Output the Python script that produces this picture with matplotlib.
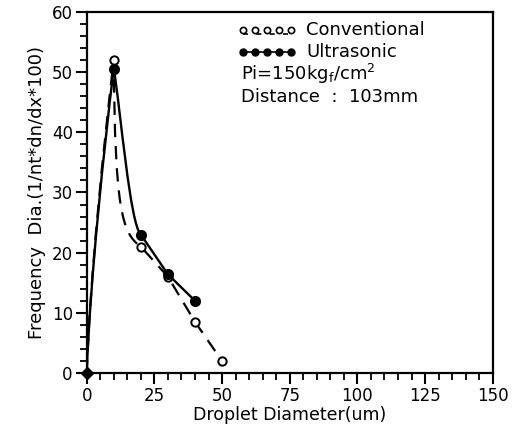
import matplotlib
matplotlib.use("Agg")
import matplotlib.pyplot as plt
from matplotlib.path import Path
from matplotlib.patches import PathPatch
from matplotlib.ticker import MultipleLocator

# ---- data ----
conv_x = [0, 10, 20, 30, 40, 50]
conv_y = [0, 52.0, 21.0, 16.0, 8.5, 2.0]
ultra_x = [0, 10, 20, 30, 40]
ultra_y = [0, 50.6, 23.0, 16.4, 12.0]
x_ticks = [0, 25, 50, 75, 100, 125, 150]
y_ticks = [0, 10, 20, 30, 40, 50, 60]
legend_labels = ["Conventional", "Ultrasonic"]
note_lines = ["Pi=150kg$_{f}$/cm$^{2}$", "Distance  :  103mm"]
x_label = "Droplet Diameter(um)"
y_label = "Frequency  Dia.(1/nt*dn/dx*100)"

plt.rcParams['font.family'] = ['DejaVu Sans']
plt.rcParams['mathtext.default'] = 'regular'

fig = plt.figure(figsize=(5.14, 4.33), dpi=100)
ax = fig.add_axes([0.1687, 0.1386, 0.7899, 0.8337])


def smooth_path(xs, ys, rise_k, fall_k):
    """Cubic Bezier through the data points: curved rise to the peak,
    curved first descent, straight segments afterwards."""
    verts = [(xs[0], ys[0])]
    codes = [Path.MOVETO]
    # rise
    x0, y0, x3, y3 = xs[0], ys[0], xs[1], ys[1]
    dx, dy = x3 - x0, y3 - y0
    verts += [(x0 + rise_k[0] * dx, y0 + rise_k[1] * dy),
              (x3 - rise_k[2] * dx, y3 - rise_k[3] * dy),
              (x3, y3)]
    codes += [Path.CURVE4] * 3
    # first descent
    x0, y0, x3, y3 = xs[1], ys[1], xs[2], ys[2]
    dx, drop = x3 - x0, y0 - y3
    verts += [(x0 + fall_k[0] * dx, y0 - fall_k[1] * drop),
              (x0 + fall_k[2] * dx, y3 + fall_k[3] * drop),
              (x3, y3)]
    codes += [Path.CURVE4] * 3
    for x, y in zip(xs[3:], ys[3:]):
        verts.append((x, y))
        codes.append(Path.LINETO)
    return Path(verts, codes)


p_conv = smooth_path(conv_x, conv_y, (0.12, 0.3, 0.35, 0.25), (0.04, 0.8, 0.3, 0.07))
p_ultra = smooth_path(ultra_x, ultra_y, (0.12, 0.3, 0.35, 0.25), (0.25, 0.25, 0.6, 0.06))

ax.add_patch(PathPatch(p_ultra, fill=False, lw=1.7, ec='black', capstyle='round'))
ax.add_patch(PathPatch(p_conv, fill=False, lw=1.6, ec='black', linestyle=(0, (6, 4))))

ax.plot(conv_x[1:], conv_y[1:], 'o', ms=6, mfc='white', mec='black', mew=1.4, zorder=4)
ax.plot(ultra_x[1:], ultra_y[1:], 'o', ms=7, mfc='black', mec='black', zorder=5)
ax.plot([ultra_x[0]], [ultra_y[0]], 'D', ms=6, color='black', clip_on=False, zorder=6)

ax.set_xlim(0, 150)
ax.set_ylim(0, 60)
ax.set_xticks(x_ticks)
ax.set_yticks(y_ticks)
ax.xaxis.set_minor_locator(MultipleLocator(5))
ax.yaxis.set_minor_locator(MultipleLocator(2))
ax.tick_params(which='major', direction='out', length=8, width=1.5, labelsize=12, pad=2)
ax.tick_params(which='minor', direction='out', length=5, width=1.3)
for s in ax.spines.values():
    s.set_linewidth(1.6)

ax.set_xlabel(x_label, fontsize=12.5, labelpad=1)
ax.set_ylabel(y_label, fontsize=13, labelpad=4)

# manual legend
lx = [0.385 + i * 0.0295 for i in range(5)]
ax.plot(lx, [0.950] * 5, 'o', ms=4.5, mfc='white', mec='black', mew=1.2,
        transform=ax.transAxes, clip_on=False)
ax.plot([lx[0], lx[-1]], [0.938, 0.938], color='black', lw=1.2,
        linestyle=(0, (3, 5)), transform=ax.transAxes)
ax.plot(lx, [0.889] * 5, 'o-', ms=5, color='black', lw=1.2,
        transform=ax.transAxes)
ax.text(0.541, 0.950, legend_labels[0], transform=ax.transAxes, fontsize=13,
        va='center', ha='left')
ax.text(0.541, 0.889, legend_labels[1], transform=ax.transAxes, fontsize=13,
        va='center', ha='left')
ax.text(0.380, 0.828, note_lines[0], transform=ax.transAxes, fontsize=13,
        va='center', ha='left')
ax.text(0.380, 0.765, note_lines[1], transform=ax.transAxes, fontsize=13,
        va='center', ha='left')

fig.savefig("out.png", dpi=100)
